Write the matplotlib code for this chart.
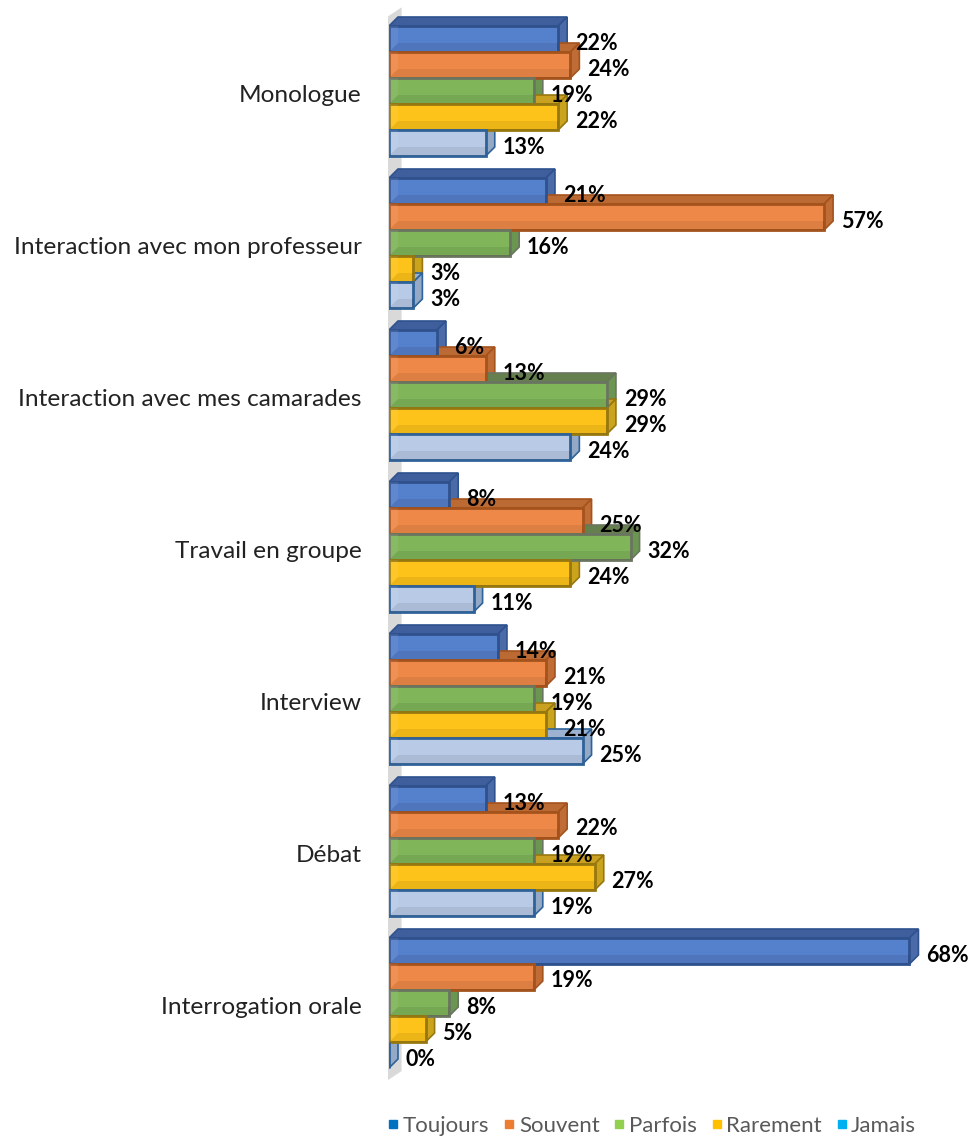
import matplotlib
matplotlib.use('Agg')
import matplotlib.pyplot as plt
from matplotlib.lines import Line2D
from matplotlib.patches import Polygon
from matplotlib.transforms import ScaledTranslation

plt.rcParams['font.family'] = ['Lato', 'DejaVu Sans']

categories = ['Monologue', 'Interaction avec mon professeur',
              'Interaction avec mes camarades', 'Travail en groupe',
              'Interview', 'Débat', 'Interrogation orale']
series_names = ['Toujours', 'Souvent', 'Parfois', 'Rarement', 'Jamais']

toujours = [22.2, 20.6, 6.3, 7.9, 14.3, 12.7, 68.3]
souvent = [23.8, 57.1, 12.7, 25.4, 20.6, 22.2, 19.0]
parfois = [19.0, 15.9, 28.6, 31.7, 19.0, 19.0, 7.9]
rarement = [22.2, 3.2, 28.6, 23.8, 20.6, 27.0, 4.8]
jamais = [12.7, 3.2, 23.8, 11.1, 25.4, 19.0, 0.0]
series_values = [toujours, souvent, parfois, rarement, jamais]

front_colors = ['#5580CC', '#EE8848', '#80B55A', '#FDC31A', '#B8CAE6']
top_colors = ['#3F5F9C', '#BC6A33', '#667F4E', '#C9A020', '#9DB2D0']
side_colors = ['#4A6BA8', '#BF6C36', '#6B9651', '#CBA41E', '#94A9C6']
edge_colors = ['#2F528F', '#A5531C', '#6A7560', '#97780F', '#2E6299']
legend_colors = ['#0070C0', '#ED7D31', '#92D050', '#FFC000', '#00B0F0']

W, H = 969, 1137
PX_PER_PCT = 7.62
GROUP_PX = 152
BAR_H = 26 / GROUP_PX
DX = 9 / PX_PER_PCT
DY = 9 / GROUP_PX

fig = plt.figure(figsize=(W / 100, H / 100), dpi=100)
ax = fig.add_axes([389 / W, 0, (W - 389) / W, 1])
ax.set_xlim(0, (W - 389) / PX_PER_PCT)
ax.set_ylim((H - 91) / GROUP_PX, -91 / GROUP_PX)

# grey wall on the left
wall_top = -0.55
wall_bot = 6.507
ax.add_patch(Polygon([(-0.13, wall_top + DY), (DX * 1.4, wall_top), (DX * 1.4, wall_bot - DY),
                      (-0.13, wall_bot)], closed=True, fc='#D9D9D9', ec='none',
                     zorder=1, clip_on=False))

# top and right faces go first, the fronts of the bars above hide them
for i in range(len(categories)):
    for s in range(len(series_names)):
        v = series_values[s][i]
        top = i + (s - 2) * BAR_H - BAR_H / 2
        bot = top + BAR_H
        ec = edge_colors[s]
        ax.add_patch(Polygon([(0, top), (DX, top - DY), (v + DX, top - DY), (v, top)],
                             closed=True, fc=top_colors[s], ec=ec, lw=1.2, zorder=2))
        ax.add_patch(Polygon([(v, top), (v + DX, top - DY), (v + DX, bot - DY), (v, bot)],
                             closed=True, fc=side_colors[s], ec=ec, lw=1.2, zorder=2))

for i in range(len(categories)):
    for s in range(len(series_names)):
        v = series_values[s][i]
        top = i + (s - 2) * BAR_H - BAR_H / 2
        bot = top + BAR_H
        ax.barh(i + (s - 2) * BAR_H, v, height=BAR_H, color=front_colors[s],
                edgecolor=edge_colors[s], linewidth=2, zorder=3 + s)
        # inner walls showing through the front
        if v > 1:
            ax.add_patch(Polygon([(0, top), (DX, top), (DX, bot - DY), (0, bot)],
                                 closed=True, fc='white', ec='none', alpha=0.07, zorder=3 + s))
            ax.add_patch(Polygon([(0, bot), (DX, bot - DY), (v, bot - DY), (v, bot)],
                                 closed=True, fc='black', ec='none', alpha=0.07, zorder=3 + s))

for i in range(len(categories)):
    for s in range(len(series_names)):
        v = series_values[s][i]
        ax.text(v + 2.2, i + (s - 2) * BAR_H + 4 / GROUP_PX, f'{v:.0f}%',
                fontsize=15.5, fontweight='bold', color='black',
                va='center', ha='left', zorder=20, clip_on=False)

ax.set_yticks(range(len(categories)))
ax.set_yticklabels(categories, fontsize=17.6, color='#222222')
ax.tick_params(axis='y', length=0, pad=19.5)
for lbl in ax.get_yticklabels():
    lbl.set_transform(lbl.get_transform() + ScaledTranslation(0, -3 / 100, fig.dpi_scale_trans))
ax.set_xticks([])
for spine in ax.spines.values():
    spine.set_visible(False)
ax.patch.set_visible(False)

handles = [Line2D([], [], linestyle='none', marker='s', markersize=6, color=c) for c in legend_colors]
fig.legend(handles, series_names, loc='lower left', bbox_to_anchor=(359 / W, -19 / H),
           ncol=5, frameon=False, fontsize=16, labelcolor='#595959',
           handletextpad=-0.22, columnspacing=0.24, handlelength=1.3)

fig.savefig('out.png', dpi=100)
